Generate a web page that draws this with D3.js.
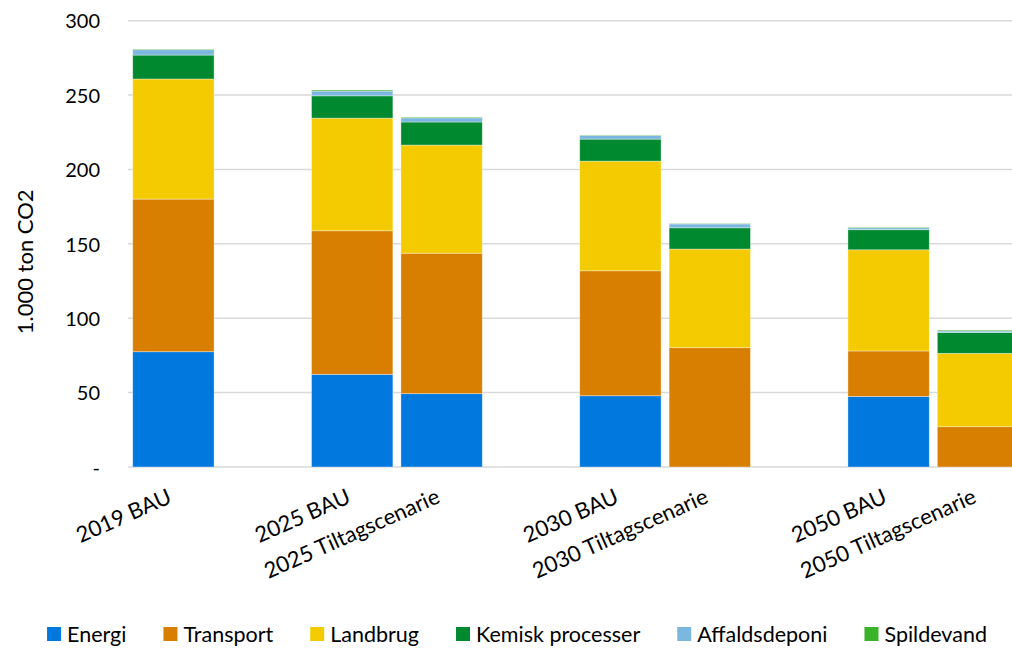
<!DOCTYPE html>
<html>
<head>
<meta charset="utf-8">
<script src="https://cdn.jsdelivr.net/npm/d3@7"></script>
<style>
  html, body { margin: 0; padding: 0; background: #fff; }
  svg { display: block; font-family: Lato, "Open Sans", sans-serif; }
</style>
</head>
<body>
<svg id="chart" width="1012" height="648"></svg>
<script>
// Scenario slots; empty strings are spacer columns between year groups
const categories = ["2019 BAU", "", "2025 BAU", "2025 Tiltagscenarie", "", "2030 BAU", "2030 Tiltagscenarie", "", "2050 BAU", "2050 Tiltagscenarie"];

// Emissions per sector, 1.000 ton CO2
const energi        = [77.5, null, 62.3, 49.3, null, 47.9, 0,    null, 47.4, 0];
const transport     = [102.6, null, 96.5, 94.4, null, 84.0, 80.2, null, 30.6, 27.1];
const landbrug      = [80.7, null, 75.7, 72.7, null, 73.7, 66.3, null, 68.0, 49.3];
const kemisk        = [16.1, null, 15.0, 15.5, null, 14.8, 14.3, null, 13.5, 14.0];
const affaldsdeponi = [3.6,  null, 3.2,  2.8,  null, 2.4,  2.6,  null, 1.3,  1.0];
const spildevand    = [0.4,  null, 0.7,  0.5,  null, 0.3,  0.3,  null, 0.4,  0.6];

const seriesNames = ["Energi", "Transport", "Landbrug", "Kemisk processer", "Affaldsdeponi", "Spildevand"];
const seriesValues = [energi, transport, landbrug, kemisk, affaldsdeponi, spildevand];
const seriesColors = ["#0078DE", "#D87E00", "#F4CB00", "#00892F", "#7BB7DE", "#3AB22A"];

const yTicks = [0, 50, 100, 150, 200, 250, 300];
const yTitle = "1.000 ton CO2";

const svg = d3.select("#chart");

const x = d3.scaleBand()
  .domain(d3.range(categories.length))
  .range([128.7, 1022.7])
  .paddingInner(0.09)
  .paddingOuter(0.045);

const y = d3.scaleLinear().domain([0, 300]).range([467, 20.7]);

// Gridlines
svg.append("g")
  .selectAll("line")
  .data(yTicks)
  .join("line")
  .attr("x1", 128)
  .attr("x2", 1022.7)
  .attr("y1", d => y(d))
  .attr("y2", d => y(d))
  .attr("stroke", "#D9D9D9")
  .attr("stroke-width", 1.5);

// Y axis tick labels
const yAxis = d3.axisLeft(y)
  .tickValues(yTicks)
  .tickSize(0)
  .tickPadding(0)
  .tickFormat(d => d === 0 ? "-" : d3.format("d")(d));

const yg = svg.append("g")
  .attr("transform", "translate(100,0)")
  .call(yAxis);
yg.select(".domain").remove();
yg.selectAll("text")
  .attr("font-family", "Lato, sans-serif")
  .attr("font-size", 20)
  .attr("fill", "#000")
  .attr("dy", "0.36em");

// Y axis title
svg.append("text")
  .attr("transform", `translate(33,${(y(0) + y(300)) / 2 + 18}) rotate(-90)`)
  .attr("text-anchor", "middle")
  .attr("font-size", 22)
  .attr("fill", "#000")
  .text(yTitle);

// Stacked bars
const rows = categories.map((c, i) => {
  const r = { idx: i };
  seriesNames.forEach((s, k) => { r[s] = seriesValues[k][i] == null ? 0 : seriesValues[k][i]; });
  return r;
});
const stacked = d3.stack().keys(seriesNames)(rows);

svg.append("g")
  .selectAll("g")
  .data(stacked)
  .join("g")
  .attr("fill", (d, k) => seriesColors[k])
  .selectAll("rect")
  .data(d => d.filter(p => categories[p.data.idx] !== "" && p[1] - p[0] > 0))
  .join("rect")
  .attr("x", p => x(p.data.idx))
  .attr("width", x.bandwidth())
  .attr("y", p => y(p[1]))
  .attr("height", p => y(p[0]) - y(p[1]))
  .attr("stroke", "rgba(255,255,255,0.45)")
  .attr("stroke-width", 0.8);

// Category labels, rotated
svg.append("g")
  .selectAll("text")
  .data(categories.map((c, i) => ({ c, i })).filter(d => d.c !== ""))
  .join("text")
  .attr("transform", d => `translate(${x(d.i) + x.bandwidth() / 2 - 7},${487}) rotate(-24)`)
  .attr("text-anchor", "end")
  .attr("dy", "0.75em")
  .attr("font-size", 22)
  .attr("fill", "#000")
  .text(d => d.c);

// Legend
const legend = svg.append("g");
const items = legend.selectAll("g")
  .data(seriesNames)
  .join("g");
items.append("rect")
  .attr("width", 14)
  .attr("height", 14)
  .attr("y", -7)
  .attr("fill", (d, k) => seriesColors[k]);
items.append("text")
  .attr("x", 20)
  .attr("dy", "0.36em")
  .attr("font-size", 21.5)
  .attr("fill", "#000")
  .text(d => d);

let cursor = 0;
const offsets = [];
items.each(function () {
  offsets.push(cursor);
  const w = 20 + d3.select(this).select("text").node().getComputedTextLength();
  cursor += w + 37;
});
const totalW = cursor - 37;
const startX = 517 - totalW / 2;
items.attr("transform", (d, k) => `translate(${startX + offsets[k]},634)`);
</script>
</body>
</html>
